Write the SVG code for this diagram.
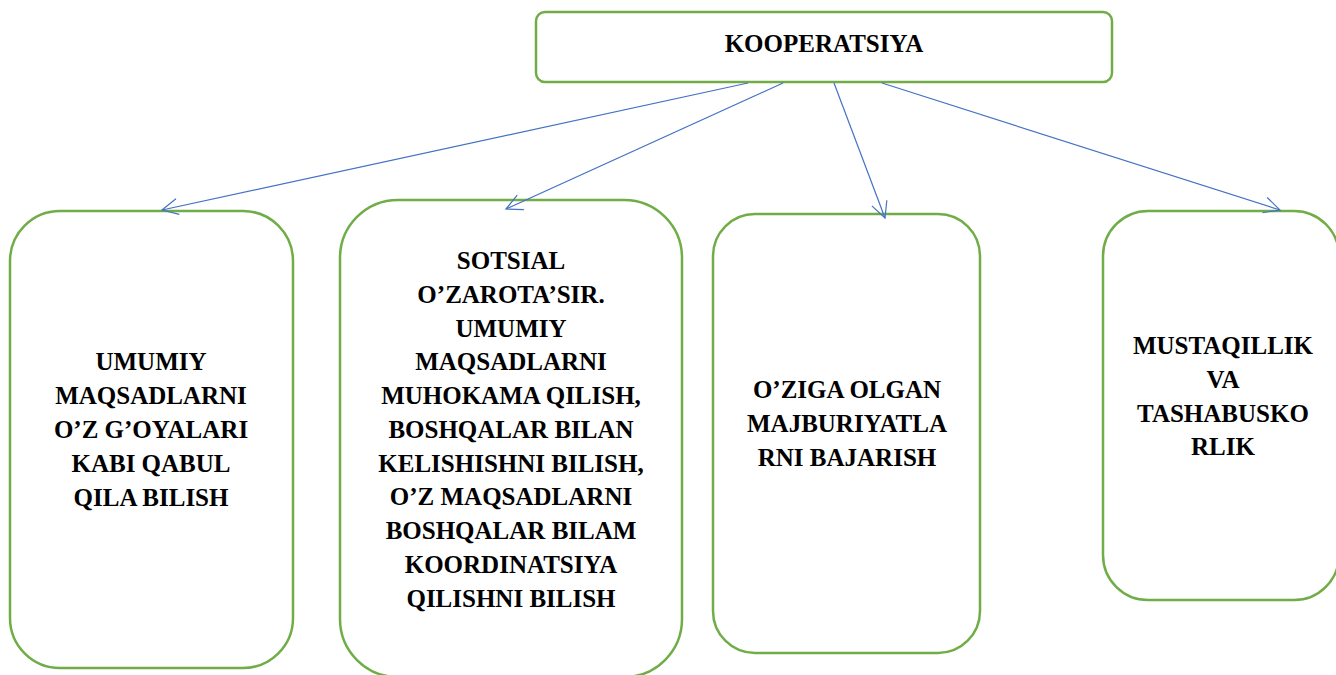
<svg xmlns="http://www.w3.org/2000/svg" width="1336" height="675" viewBox="0 0 1336 675">
<style>
.box{fill:#fff;stroke:#70AD47;stroke-width:2.5}
.lbl{font-family:"Liberation Serif","Times New Roman",serif;font-weight:bold;font-size:25px;fill:#000;text-anchor:middle}
.conn{stroke:#4472C4;stroke-width:1.2;fill:none;marker-end:url(#arr)}
</style>
<defs>
<marker id="arr" markerUnits="userSpaceOnUse" viewBox="0 0 18 18" refX="17" refY="9" markerWidth="18" markerHeight="18" orient="auto" overflow="visible">
<path d="M1,1 L17,9 L1,17" fill="none" stroke="#4472C4" stroke-width="1.2"/>
</marker>
</defs>
<rect width="1336" height="675" fill="#fff"/>
<g id="node-kooperatsiya">
<rect class="box" x="536" y="12" width="576" height="70" rx="9"/>
<text class="lbl" x="824" y="52">KOOPERATSIYA</text>
</g>
<g id="node-umumiy">
<rect class="box" x="10" y="211" width="283" height="457" rx="50"/>
<text class="lbl" x="151" y="370">UMUMIY</text>
<text class="lbl" x="151" y="404">MAQSADLARNI</text>
<text class="lbl" x="151" y="438">O’Z G’OYALARI</text>
<text class="lbl" x="151" y="472">KABI QABUL</text>
<text class="lbl" x="151" y="506">QILA BILISH</text>
</g>
<g id="node-sotsial">
<rect class="box" x="340" y="200" width="342" height="477" rx="58"/>
<text class="lbl" x="511" y="269">SOTSIAL</text>
<text class="lbl" x="511" y="303">O’ZAROTA’SIR.</text>
<text class="lbl" x="511" y="337">UMUMIY</text>
<text class="lbl" x="511" y="370">MAQSADLARNI</text>
<text class="lbl" x="511" y="404">MUHOKAMA QILISH,</text>
<text class="lbl" x="511" y="438">BOSHQALAR BILAN</text>
<text class="lbl" x="511" y="472">KELISHISHNI BILISH,</text>
<text class="lbl" x="511" y="505">O’Z MAQSADLARNI</text>
<text class="lbl" x="511" y="539">BOSHQALAR BILAM</text>
<text class="lbl" x="511" y="573">KOORDINATSIYA</text>
<text class="lbl" x="511" y="607">QILISHNI BILISH</text>
</g>
<g id="node-oziga">
<rect class="box" x="713" y="214" width="267" height="439" rx="42"/>
<text class="lbl" x="847" y="398">O’ZIGA OLGAN</text>
<text class="lbl" x="847" y="432">MAJBURIYATLA</text>
<text class="lbl" x="847" y="466">RNI BAJARISH</text>
</g>
<g id="node-mustaqillik">
<rect class="box" x="1103" y="211" width="236" height="389" rx="45"/>
<text class="lbl" x="1223" y="354">MUSTAQILLIK</text>
<text class="lbl" x="1223" y="388">VA</text>
<text class="lbl" x="1223" y="422">TASHABUSKO</text>
<text class="lbl" x="1223" y="455">RLIK</text>
</g>
<g id="connectors">
<line class="conn" x1="748" y1="83" x2="162" y2="210"/>
<line class="conn" x1="783" y1="83" x2="506" y2="209"/>
<line class="conn" x1="834" y1="83" x2="885" y2="218"/>
<line class="conn" x1="882" y1="83" x2="1280" y2="210"/>
</g>
</svg>
